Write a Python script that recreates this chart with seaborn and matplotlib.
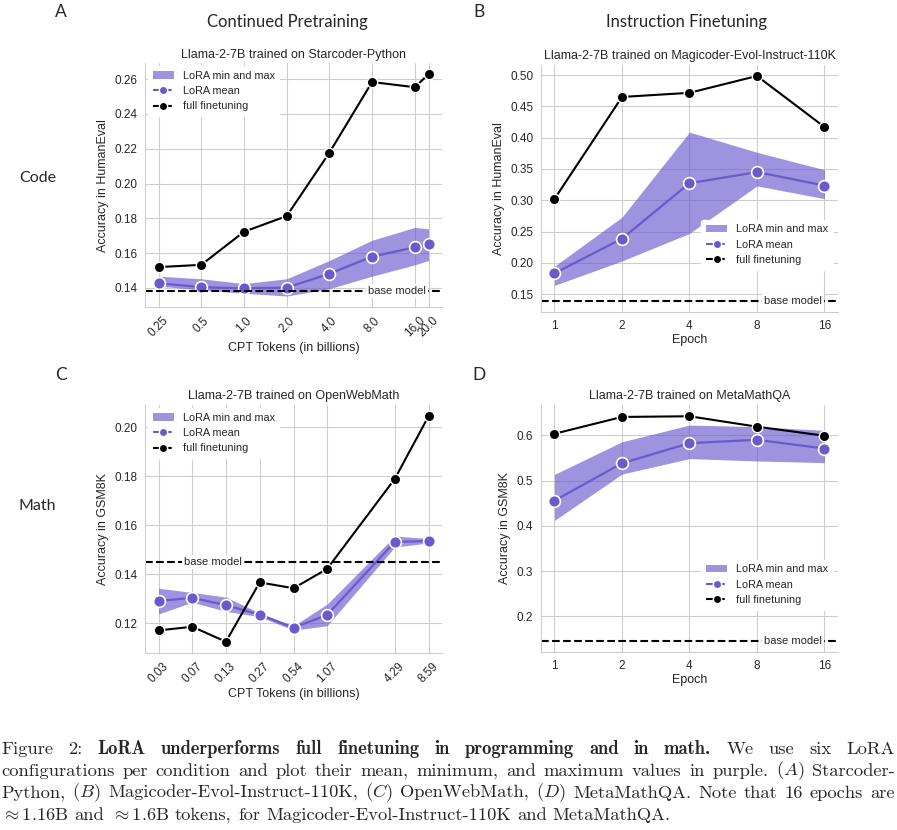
import numpy as np
import pandas as pd
import matplotlib.pyplot as plt
import seaborn as sns
from matplotlib.lines import Line2D
from matplotlib.patches import Patch

# ---------------------------------------------------------------------------
# Data
# ---------------------------------------------------------------------------
# A: Starcoder-Python, continued pretraining
a_tokens = [0.25, 0.5, 1.0, 2.0, 4.0, 8.0, 16.0, 20.0]
a_tick_labels = ['0.25', '0.5', '1.0', '2.0', '4.0', '8.0', '16.0', '20.0']
a_full = [0.152, 0.1533, 0.1723, 0.1813, 0.2177, 0.2583, 0.2553, 0.2628]
a_lora_mean = [0.1427, 0.1405, 0.1398, 0.1402, 0.1482, 0.1580, 0.1634, 0.1653]
a_lora_min = [0.1411, 0.1389, 0.1370, 0.1354, 0.1396, 0.1468, 0.1533, 0.1558]
a_lora_max = [0.1468, 0.1453, 0.1425, 0.1453, 0.1558, 0.1674, 0.1748, 0.1740]
a_base = 0.1381

# B: Magicoder-Evol-Instruct-110K, instruction finetuning
b_epochs = [1, 2, 4, 8, 16]
b_full = [0.302, 0.465, 0.4716, 0.4985, 0.417]
b_lora_mean = [0.1833, 0.2386, 0.3272, 0.345, 0.3234]
b_lora_min = [0.164, 0.203, 0.247, 0.3229, 0.3025]
b_lora_max = [0.1946, 0.273, 0.4088, 0.3766, 0.3487]
b_base = 0.1393

# C: OpenWebMath, continued pretraining
c_tokens = [0.0336, 0.0671, 0.134, 0.268, 0.537, 1.07, 4.29, 8.59]
c_tick_labels = ['0.03', '0.07', '0.13', '0.27', '0.54', '1.07', '4.29', '8.59']
c_full = [0.117, 0.1185, 0.1124, 0.1366, 0.1342, 0.1421, 0.1788, 0.2044]
c_lora_mean = [0.129, 0.1303, 0.1273, 0.1234, 0.1181, 0.1233, 0.1531, 0.1535]
c_lora_min = [0.1237, 0.1285, 0.1248, 0.1226, 0.1171, 0.1189, 0.151, 0.1527]
c_lora_max = [0.1342, 0.1325, 0.1306, 0.1241, 0.1189, 0.1277, 0.1555, 0.1545]
c_base = 0.145

# D: MetaMathQA, instruction finetuning
d_epochs = [1, 2, 4, 8, 16]
d_full = [0.6037, 0.6409, 0.6424, 0.6193, 0.5993]
d_lora_mean = [0.4558, 0.5383, 0.5829, 0.5903, 0.571]
d_lora_min = [0.4119, 0.5145, 0.5487, 0.5435, 0.5398]
d_lora_max = [0.5138, 0.5859, 0.623, 0.6193, 0.6112]
d_base = 0.1457

# ---------------------------------------------------------------------------
# Style
# ---------------------------------------------------------------------------
sns.set_style("whitegrid")
plt.rcParams['font.family'] = ['Liberation Sans', 'DejaVu Sans']
plt.rcParams['mathtext.fontset'] = 'cm'

LORA = '#6a5acd'
BAND_ALPHA = 0.65
HEAD_FONT = ['Lato', 'DejaVu Sans']


def draw_panel(ax, x, full, mean, lo, hi, base, title, xlabel, ylabel,
               ticklabels, rotate, legend_loc, base_side):
    ax.fill_between(x, lo, hi, color=LORA, alpha=BAND_ALPHA, linewidth=0)
    sns.lineplot(x=x, y=mean, ax=ax, color=LORA, marker='o', markersize=8.5,
                 markeredgecolor='white', markeredgewidth=1.2, linewidth=1.6)
    sns.lineplot(x=x, y=full, ax=ax, color='black', marker='o', markersize=7.5,
                 markeredgecolor='white', markeredgewidth=1.0, linewidth=1.5)
    ax.axhline(base, color='black', ls='--', lw=1.5)
    if base_side == 'right':
        ax.text(0.945, base, 'base model', transform=ax.get_yaxis_transform(),
                ha='right', va='center', fontsize=8,
                bbox=dict(facecolor='white', edgecolor='none', pad=1.5))
    else:
        ax.text(0.13, base, 'base model', transform=ax.get_yaxis_transform(),
                ha='left', va='center', fontsize=8,
                bbox=dict(facecolor='white', edgecolor='none', pad=1.5))

    ax.set_xscale('log', base=2)
    ax.set_xticks(x)
    ax.set_xticklabels(ticklabels, rotation=45 if rotate else 0)
    ax.minorticks_off()
    ax.tick_params(axis='both', labelsize=8.5, pad=2)
    ax.set_title(title, fontsize=9, pad=4)
    ax.set_xlabel(xlabel, fontsize=9, labelpad=2)
    ax.set_ylabel(ylabel, fontsize=9)
    sns.despine(ax=ax)

    handles = [
        Patch(facecolor=LORA, alpha=BAND_ALPHA, edgecolor='none'),
        Line2D([], [], color=LORA, ls='--', marker='o', markersize=6,
               markeredgecolor='white', lw=1.5),
        Line2D([], [], color='black', ls='--', marker='o', markersize=6,
               markeredgecolor='white', lw=1.5),
    ]
    labels = ['LoRA min and max', 'LoRA mean', 'full finetuning']
    if legend_loc == 'upper left':
        leg = ax.legend(handles, labels, loc='upper left', fontsize=7.8,
                        frameon=True, handlelength=2.0, borderaxespad=0.3)
    else:
        leg = ax.legend(handles, labels, loc='lower right',
                        bbox_to_anchor=(1.0, 0.15), fontsize=7.8,
                        frameon=True, handlelength=2.0)
    leg.get_frame().set_edgecolor('white')
    leg.get_frame().set_alpha(1.0)


fig = plt.figure(figsize=(8.97, 8.30), dpi=100)
ax_a = fig.add_axes([0.1617, 0.630, 0.3311, 0.294])
ax_b = fig.add_axes([0.6031, 0.624, 0.3311, 0.298])
ax_c = fig.add_axes([0.1617, 0.2133, 0.3311, 0.2988])
ax_d = fig.add_axes([0.6031, 0.2145, 0.3311, 0.2975])

draw_panel(ax_a, a_tokens, a_full, a_lora_mean, a_lora_min, a_lora_max, a_base,
           'Llama-2-7B trained on Starcoder-Python', 'CPT Tokens (in billions)',
           'Accuracy in HumanEval', a_tick_labels, True, 'upper left', 'right')
draw_panel(ax_b, b_epochs, b_full, b_lora_mean, b_lora_min, b_lora_max, b_base,
           'Llama-2-7B trained on Magicoder-Evol-Instruct-110K', 'Epoch',
           'Accuracy in HumanEval', [str(e) for e in b_epochs], False,
           'lower right', 'right')
draw_panel(ax_c, c_tokens, c_full, c_lora_mean, c_lora_min, c_lora_max, c_base,
           'Llama-2-7B trained on OpenWebMath', 'CPT Tokens (in billions)',
           'Accuracy in GSM8K', c_tick_labels, True, 'upper left', 'left')
draw_panel(ax_d, d_epochs, d_full, d_lora_mean, d_lora_min, d_lora_max, d_base,
           'Llama-2-7B trained on MetaMathQA', 'Epoch',
           'Accuracy in GSM8K', [str(e) for e in d_epochs], False,
           'lower right', 'right')

ax_a.set_yticks([0.14, 0.16, 0.18, 0.20, 0.22, 0.24, 0.26])
ax_c.set_yticks([0.12, 0.14, 0.16, 0.18, 0.20])
ax_d.set_yticks([0.2, 0.3, 0.4, 0.5, 0.6])


def px(x, y):
    return x / 897, 1 - y / 830


# headings, panel letters, row labels
for txt, (x, y) in [('Continued Pretraining', (287, 22)),
                    ('Instruction Finetuning', (686, 22))]:
    fig.text(*px(x, y), txt, ha='center', va='center', fontsize=12,
             family=HEAD_FONT)
for txt, (x, y) in [('A', (61, 12)), ('B', (479, 12)),
                    ('C', (61, 375)), ('D', (479, 375))]:
    fig.text(*px(x, y), txt, ha='center', va='center', fontsize=12.5,
             family=HEAD_FONT)
fig.text(*px(38, 178), 'Code', ha='center', va='center', fontsize=11.5,
         family=HEAD_FONT)
fig.text(*px(37, 506), 'Math', ha='center', va='center', fontsize=11.5,
         family=HEAD_FONT)

# ---------------------------------------------------------------------------
# Caption (justified, Computer Modern)
# ---------------------------------------------------------------------------
R, B = 'cmr10', 'cmb10'
caption_lines = [
    [('Figure', R), ('2:', R), ('LoRA', B), ('underperforms', B), ('full', B),
     ('finetuning', B), ('in', B), ('programming', B), ('and', B), ('in', B),
     ('math.', B), ('We', R), ('use', R), ('six', R), ('LoRA', R)],
    [('configurations', R), ('per', R), ('condition', R), ('and', R),
     ('plot', R), ('their', R), ('mean,', R), ('minimum,', R), ('and', R),
     ('maximum', R), ('values', R), ('in', R), ('purple.', R), ('$(A)$', R),
     ('Starcoder-', R)],
    [('Python,', R), ('$(B)$', R), ('Magicoder-Evol-Instruct-110K,', R),
     ('$(C)$', R), ('OpenWebMath,', R), ('$(D)$', R), ('MetaMathQA.', R),
     ('Note', R), ('that', R), ('16', R), ('epochs', R), ('are', R)],
    [(r'$\approx$1.16B', R), ('and', R), (r'$\approx$1.6B', R), ('tokens,', R),
     ('for', R), ('Magicoder-Evol-Instruct-110K', R), ('and', R),
     ('MetaMathQA.', R)],
]
cap_size = 13.3
cap_left, cap_right = 1, 895
cap_y = [749, 771, 793, 815]

renderer = fig.canvas.get_renderer()
for i, words in enumerate(caption_lines):
    arts = []
    widths = []
    for w, fam in words:
        t = fig.text(0, 0, w, fontsize=cap_size, family=fam, va='center',
                     ha='left')
        arts.append(t)
        widths.append(t.get_window_extent(renderer).width)
    last = i == len(caption_lines) - 1
    if last:
        gap = 0.33 * cap_size * 100 / 72
    else:
        gap = (cap_right - cap_left - sum(widths)) / (len(words) - 1)
    xpos = cap_left
    for t, wd in zip(arts, widths):
        t.set_position(px(xpos, cap_y[i]))
        xpos += wd + gap

fig.savefig('out.png', dpi=100)
